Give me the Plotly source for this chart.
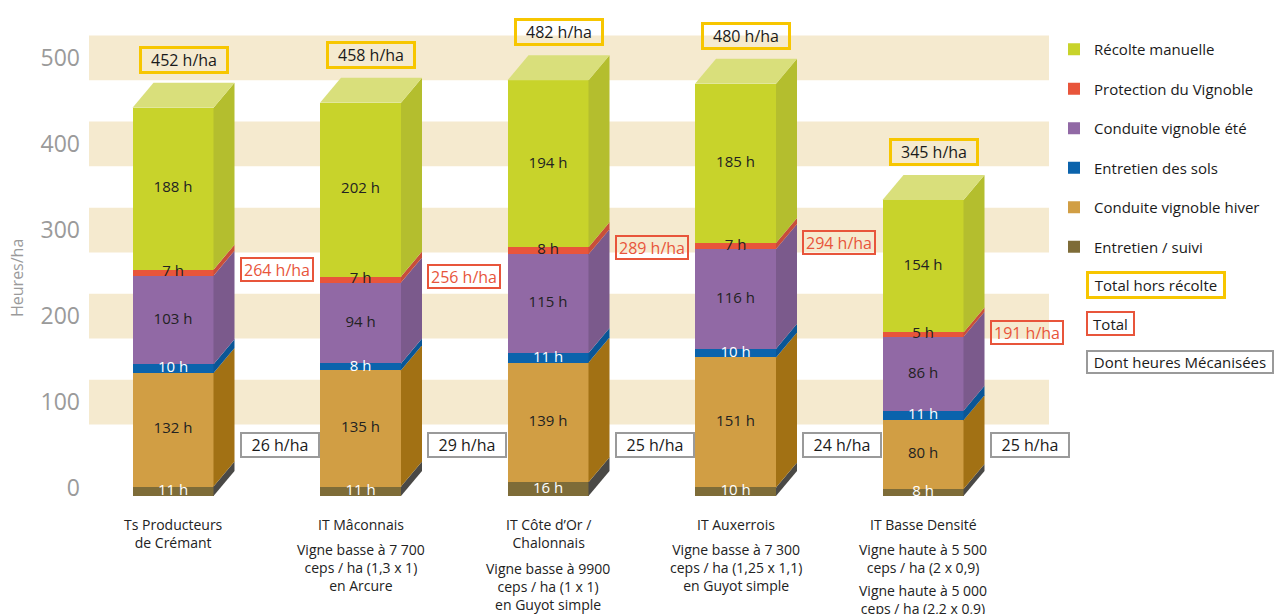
import numpy as np
import plotly.graph_objects as go

# ---------------- data ----------------
categories_title = ["Ts Producteurs<br>de Crémant", "IT Mâconnais", "IT Côte d’Or /<br>Chalonnais",
                    "IT Auxerrois", "IT Basse Densité"]
categories_desc = ["",
                   "Vigne basse à 7 700<br>ceps / ha (1,3 x 1)<br>en Arcure",
                   "Vigne basse à 9900<br>ceps / ha (1 x 1)<br>en Guyot simple",
                   "Vigne basse à 7 300<br>ceps / ha (1,25 x 1,1)<br>en Guyot simple",
                   "Vigne haute à 5 500<br>ceps / ha (2 x 0,9)"]
categories_desc2 = ["", "", "", "", "Vigne haute à 5 000<br>ceps / ha (2,2 x 0,9)"]

series_names = ["Entretien / suivi", "Conduite vignoble hiver", "Entretien des sols",
                "Conduite vignoble été", "Protection du Vignoble", "Récolte manuelle"]
entretien_suivi = [11, 11, 16, 10, 8]
conduite_hiver = [132, 135, 139, 151, 80]
entretien_sols = [10, 8, 11, 10, 11]
conduite_ete = [103, 94, 115, 116, 86]
protection = [7, 7, 8, 7, 5]
recolte = [188, 202, 194, 185, 154]

total_yellow = [452, 458, 482, 480, 345]
total_red = [264, 256, 289, 294, 191]
mecanisees = [26, 29, 25, 24, 25]

y_ticks = [0, 100, 200, 300, 400, 500]

# ---------------- style ----------------
front_colors = ["#7E6C38", "#D19E44", "#0B63AC", "#9169A5", "#E8553B", "#C8D32B"]
side_colors = ["#4A4946", "#A27114", "#0A5696", "#7B5A8C", "#C84E3A", "#B4BE2E"]
top_color = "#D9DF7B"
label_colors = ["#FFFFFF", "#222222", "#FFFFFF", "#222222", "#222222", "#222222"]
band_color = "#F5EACF"
FONT = "Open Sans"

W, H = 1275, 614
ML, MR, MT, MB = 89, 226, 14, 118
PW, PH = W - ML - MR, H - MT - MB
XR = [-0.448, 4.672]
YR = [0, 560]
px_x = PW / (XR[1] - XR[0])
px_y = PH / (YR[1] - YR[0])

bar_w = 81 / px_x
depth_x = 21 / px_x
depth_y = 25 / px_y

series = [entretien_suivi, conduite_hiver, entretien_sols, conduite_ete, protection, recolte]
vals = np.array(series, dtype=float)
tops = np.cumsum(vals, axis=0)
bottoms = tops - vals
xs = np.arange(len(categories_title))
n_series = len(series_names)

fig = go.Figure()
for k, name in enumerate(series_names):
    fig.add_trace(go.Bar(
        x=xs, y=series[k], name=name, width=bar_w,
        marker=dict(color=front_colors[k], line=dict(width=0)),
        legendgroup=name, legendrank=n_series - k, hoverinfo="name+y",
    ))

# segment labels
for k, name in enumerate(series_names):
    mids = (bottoms[k] + tops[k]) / 2
    fig.add_trace(go.Scatter(
        x=xs, y=mids, mode="text", text=[f"{v} h" for v in series[k]],
        textfont=dict(family=FONT, size=15, color=label_colors[k]),
        showlegend=False, hoverinfo="skip", cliponaxis=False,
    ))

shapes = []
# background bands
for t in y_ticks[1:]:
    shapes.append(dict(type="rect", xref="paper", yref="y", x0=0, x1=1, y0=t - 17, y1=t + 35,
                       fillcolor=band_color, line=dict(width=0), layer="below"))

# 3D sides and tops
for i in xs:
    xr_ = i + bar_w / 2
    xl_ = i - bar_w / 2
    for k in range(n_series):
        y0, y1 = bottoms[k][i], tops[k][i]
        path = (f"M{xr_},{y0} L{xr_},{y1} L{xr_ + depth_x},{y1 + depth_y} "
                f"L{xr_ + depth_x},{y0 + depth_y} Z")
        shapes.append(dict(type="path", xref="x", yref="y", path=path,
                           fillcolor=side_colors[k], line=dict(width=0), layer="above"))
    T = tops[-1][i]
    path = (f"M{xl_},{T} L{xr_},{T} L{xr_ + depth_x},{T + depth_y} L{xl_ + depth_x},{T + depth_y} Z")
    shapes.append(dict(type="path", xref="x", yref="y", path=path,
                       fillcolor=top_color, line=dict(width=0), layer="above"))

annotations = []
gap = 5 / px_x
for i in xs:
    T = tops[-1][i]
    # yellow box
    annotations.append(dict(x=i + depth_x / 2, y=T + depth_y, xref="x", yref="y",
                            text=f"{total_yellow[i]} h/ha", showarrow=False,
                            xanchor="center", yanchor="bottom", yshift=9,
                            width=82, height=20,
                            font=dict(family=FONT, size=16, color="#1a1a1a"),
                            bordercolor="#F7C600", borderwidth=3, borderpad=1))
    # red box
    annotations.append(dict(x=i + bar_w / 2 + depth_x + gap, y=tops[4][i], xref="x", yref="y",
                            text=f"{total_red[i]} h/ha", showarrow=False,
                            xanchor="left", yanchor="middle", width=68, height=19,
                            font=dict(family=FONT, size=16, color="#E8553B"),
                            bordercolor="#E8553B", borderwidth=2, borderpad=1))
    # gray box
    annotations.append(dict(x=i + bar_w / 2 + depth_x + gap, y=59, xref="x", yref="y",
                            text=f"{mecanisees[i]} h/ha", showarrow=False,
                            xanchor="left", yanchor="middle", width=74, height=20,
                            font=dict(family=FONT, size=16, color="#1a1a1a"),
                            bordercolor="#9A9A9A", borderwidth=2, borderpad=1))
    # category labels
    n_title = categories_title[i].count("<br>") + 1
    annotations.append(dict(x=i, y=0, xref="x", yref="paper", text=categories_title[i],
                            showarrow=False, xanchor="center", yanchor="top", yshift=-17,
                            font=dict(family=FONT, size=14, color="#222222")))
    if categories_desc[i]:
        shift = -17 - n_title * 19 - 6
        annotations.append(dict(x=i, y=0, xref="x", yref="paper", text=categories_desc[i],
                                showarrow=False, xanchor="center", yanchor="top", yshift=shift,
                                font=dict(family=FONT, size=14, color="#222222")))
        if categories_desc2[i]:
            n_desc = categories_desc[i].count("<br>") + 1
            annotations.append(dict(x=i, y=0, xref="x", yref="paper", text=categories_desc2[i],
                                    showarrow=False, xanchor="center", yanchor="top",
                                    yshift=shift - n_desc * 19 - 3,
                                    font=dict(family=FONT, size=14, color="#222222")))

# y axis title
annotations.append(dict(x=-(ML - 17) / PW, y=(MT + PH - 278) / PH, xref="paper", yref="paper",
                        text="Heures/ha", textangle=-90, showarrow=False,
                        xanchor="center", yanchor="middle",
                        font=dict(family=FONT, size=16, color="#9A9A9A")))

# legend box items
box_items = [("Total hors récolte", "#F7C600", 3, 285, 132, 20),
             ("Total", "#E8553B", 2, 323, 43, 19),
             ("Dont heures Mécanisées", "#9A9A9A", 2, 362, 182, 18)]
for txt, col, bw, ypx, bwid, bhei in box_items:
    annotations.append(dict(x=(1086 - ML) / PW, y=(MT + PH - ypx) / PH, xref="paper", yref="paper",
                            text=txt, showarrow=False, xanchor="left", yanchor="middle",
                            width=bwid, height=bhei,
                            font=dict(family=FONT, size=15, color="#1a1a1a"),
                            bordercolor=col, borderwidth=bw, borderpad=1))

fig.update_layout(
    width=W, height=H,
    margin=dict(l=ML, r=MR, t=MT, b=MB, autoexpand=False),
    barmode="stack",
    paper_bgcolor="white", plot_bgcolor="white",
    font=dict(family=FONT),
    xaxis=dict(range=XR, visible=False, fixedrange=True),
    yaxis=dict(range=YR, tickvals=y_ticks, ticktext=[str(t) for t in y_ticks],
               showgrid=False, zeroline=False, showline=False, ticks="",
               tickfont=dict(family=FONT, size=23, color="#9A9A9A"),
               ticklabelshift=-8, ticklabelstandoff=8, fixedrange=True),
    legend=dict(x=(1054 - ML) / PW, y=(MT + PH - 33) / PH, xanchor="left", yanchor="top",
                traceorder="grouped", tracegroupgap=17,
                font=dict(family=FONT, size=15, color="#1a1a1a"),
                bgcolor="rgba(0,0,0,0)"),
    shapes=shapes, annotations=annotations,
    showlegend=True,
)

fig.write_html("out.html", config={"displayModeBar": False},
               post_script="document.body.style.margin='0';")
